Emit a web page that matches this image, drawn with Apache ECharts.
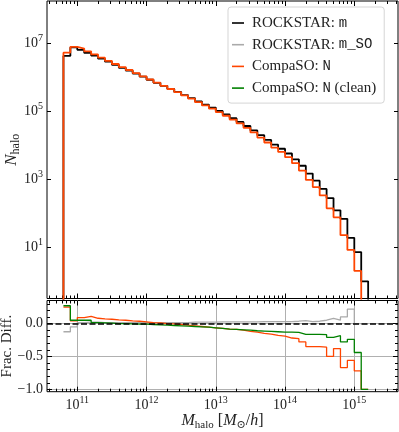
<!DOCTYPE html>
<html>
<head>
<meta charset="utf-8">
<script src="https://cdn.jsdelivr.net/npm/echarts@6.0.0/dist/echarts.min.js"></script>
<style>
html, body { margin: 0; padding: 0; background: #fff; }
#chart { width: 399px; height: 432px; }
</style>
</head>
<body>
<div id="chart"></div>
<script>
// bin edges in log10(M_halo / (M_sun/h)), 0.1 dex wide
var binEdges = [10.8, 10.9, 11.0, 11.1, 11.2, 11.3, 11.4, 11.5, 11.6, 11.7,
  11.8, 11.9, 12.0, 12.1, 12.2, 12.3, 12.4, 12.5, 12.6, 12.7,
  12.8, 12.9, 13.0, 13.1, 13.2, 13.3, 13.4, 13.5, 13.6, 13.7,
  13.8, 13.9, 14.0, 14.1, 14.2, 14.3, 14.4, 14.5, 14.6, 14.7,
  14.8, 14.9, 15.0, 15.1, 15.2]

// ROCKSTAR m : log10(N_halo) per bin
var rockstarLogN = [6.64, 6.89, 6.82, 6.73, 6.65, 6.56, 6.47, 6.38, 6.29, 6.21,
  6.12, 6.03, 5.94, 5.85, 5.76, 5.67, 5.58, 5.49, 5.40, 5.30,
  5.21, 5.12, 5.02, 4.92, 4.81, 4.70, 4.58, 4.45, 4.31, 4.17,
  4.03, 3.91, 3.77, 3.60, 3.41, 3.18, 2.97, 2.73, 2.46, 2.10,
  1.85, 1.29, 0.87, 0.01]

// fractional differences relative to ROCKSTAR m
var fracDiffRockstarSO = [-0.125, -0.05, 0.015, 0.02, 0.02, 0.015, 0.015, 0.015, 0.015, 0.015,
  0.015, 0.015, 0.015, 0.015, 0.015, 0.015, 0.015, 0.015, 0.02, 0.02,
  0.02, 0.02, 0.025, 0.025, 0.025, 0.025, 0.025, 0.025, 0.03, 0.03,
  0.03, 0.03, 0.03, 0.035, 0.045, 0.03, 0.035, 0.05, 0.08, 0.05,
  0.10, 0.22, 0.0, 0.0]
var fracDiffCompaSO = [0.25, 0.04, 0.09, 0.11, 0.08, 0.07, 0.065, 0.055, 0.05, 0.04,
  0.035, 0.025, 0.015, 0.01, 0.0, -0.005, -0.015, -0.025, -0.035, -0.045,
  -0.055, -0.065, -0.075, -0.085, -0.09, -0.10, -0.12, -0.13, -0.15, -0.16,
  -0.18, -0.19, -0.22, -0.23, -0.28, -0.35, -0.35, -0.36, -0.50, -0.38,
  -0.67, -0.56, -0.72, -1.0]
var fracDiffCompaSOClean = [0.27, 0.05, 0.05, 0.05, 0.015, 0.01, 0.005, 0.0, 0.0, -0.005,
  -0.01, -0.01, -0.015, -0.02, -0.025, -0.03, -0.035, -0.04, -0.045, -0.05,
  -0.055, -0.065, -0.075, -0.085, -0.09, -0.095, -0.10, -0.11, -0.115, -0.12,
  -0.125, -0.13, -0.13, -0.135, -0.165, -0.165, -0.165, -0.17, -0.21, -0.185,
  -0.28, -0.24, -0.44, -1.0]

var massTicks = [11, 12, 13, 14, 15]
var countTicks = [1, 3, 5, 7]
var fracTicks = [-1, -0.5, 0]
var fracTickLabels = ['\u22121.0', '\u22120.5', '0.0']

var legendNames = ['ROCKSTAR: m', 'ROCKSTAR: m_SO', 'CompaSO: N', 'CompaSO: N (clean)']
var legendLabels = {
  'ROCKSTAR: m': '{t|ROCKSTAR: }{m|m}',
  'ROCKSTAR: m_SO': '{t|ROCKSTAR: }{m|m_SO}',
  'CompaSO: N': '{t|CompaSO: }{m|N}',
  'CompaSO: N (clean)': '{t|CompaSO: }{m|N}{t| (clean)}'
}

var SERIF = '"Liberation Serif", "DejaVu Serif", serif'
var MONO = '"Liberation Mono", "DejaVu Sans Mono", monospace'
var X_MIN = 10.5625, X_MAX = 15.631
var N_MIN = -0.494, N_MAX = 8.256
var F_MIN = -1.036, F_MAX = 0.35
var FLOOR = -3 // empty bins, below the plot

// CompaSO N counts from ROCKSTAR counts and the frac. diff.
var compaLogN = rockstarLogN.map(function (v, i) {
  var r = 1 + fracDiffCompaSO[i]
  return r > 0 ? v + Math.log10(r) : FLOOR
})

function stepData(vals, floor) {
  var pts = []
  if (floor != null) pts.push([binEdges[0], floor])
  for (var i = 0; i < vals.length; i++) pts.push([binEdges[i], vals[i]])
  pts.push([binEdges[vals.length], vals[vals.length - 1]])
  if (floor != null) pts.push([binEdges[vals.length], floor])
  return pts
}

// minor ticks of the log mass axis
var massMinor = []
for (var n = 10; n <= 15; n++) {
  for (var k = 2; k <= 9; k++) {
    var t = n + Math.log10(k)
    if (t > X_MIN && t < X_MAX) massMinor.push(t)
  }
}
var fracMinor = []
for (var j = -10; j <= 3; j++) {
  if (j % 5 !== 0) fracMinor.push(j / 10)
}

var powRich = {
  b: { fontFamily: SERIF, fontSize: 14, lineHeight: 20, color: '#222' },
  s: { fontFamily: SERIF, fontSize: 10, lineHeight: 10, verticalAlign: 'top', color: '#222' }
}
function powLabel(v) {
  return '{b|10}{s|' + Math.round(v) + '}'
}

function tickAxis(grid, pos, min, max, ticks, len) {
  return {
    type: 'value',
    gridIndex: grid,
    position: pos,
    min: min,
    max: max,
    nameMoveOverlap: false,
    axisLine: { show: false, onZero: false },
    axisTick: {
      show: true, inside: true, length: len, customValues: ticks,
      lineStyle: { color: '#000', width: 1 }
    },
    axisLabel: { show: false },
    splitLine: { show: false },
    axisPointer: { show: false }
  }
}

// x axes
var xAxes = [
  tickAxis(0, 'bottom', X_MIN, X_MAX, massTicks, 5),
  tickAxis(0, 'bottom', X_MIN, X_MAX, massMinor, 3),
  tickAxis(0, 'top', X_MIN, X_MAX, massTicks, 5),
  tickAxis(0, 'top', X_MIN, X_MAX, massMinor, 3),
  tickAxis(1, 'bottom', X_MIN, X_MAX, massTicks, 5),
  tickAxis(1, 'bottom', X_MIN, X_MAX, massMinor, 3),
  tickAxis(1, 'top', X_MIN, X_MAX, massTicks, 5),
  tickAxis(1, 'top', X_MIN, X_MAX, massMinor, 3)
]
xAxes[4].axisLabel = {
  show: true, customValues: massTicks, margin: 4,
  formatter: powLabel, rich: powRich
}
xAxes[4].splitLine = { show: true, lineStyle: { color: '#b0b0b0', width: 1 } }
xAxes[4].name = '{i|M}{sub|halo}{r| [}{i|M}{sub|\u2299}{r|/}{i|h}{r|]}'
xAxes[4].nameLocation = 'middle'
xAxes[4].nameGap = 19
xAxes[4].nameTextStyle = {
  rich: {
    i: { fontFamily: SERIF, fontStyle: 'italic', fontSize: 16, lineHeight: 20, color: '#222' },
    r: { fontFamily: SERIF, fontSize: 16, lineHeight: 20, color: '#222' },
    sub: { fontFamily: SERIF, fontSize: 11, lineHeight: 12, verticalAlign: 'bottom', color: '#222' }
  }
}

// y axes
var yAxes = [
  tickAxis(0, 'left', N_MIN, N_MAX, countTicks, 4),
  tickAxis(0, 'right', N_MIN, N_MAX, countTicks, 4),
  tickAxis(1, 'left', F_MIN, F_MAX, fracTicks, 5),
  tickAxis(1, 'left', F_MIN, F_MAX, fracMinor, 3),
  tickAxis(1, 'right', F_MIN, F_MAX, fracTicks, 5),
  tickAxis(1, 'right', F_MIN, F_MAX, fracMinor, 3)
]
yAxes[0].axisLabel = {
  show: true, customValues: countTicks, margin: 4,
  formatter: powLabel, rich: powRich
}
yAxes[0].name = '{i|N}{sub|halo}'
yAxes[0].nameLocation = 'middle'
yAxes[0].nameRotate = 90
yAxes[0].nameGap = 25
yAxes[0].nameTextStyle = {
  rich: {
    i: { fontFamily: SERIF, fontStyle: 'italic', fontSize: 17, lineHeight: 20, color: '#222' },
    sub: { fontFamily: SERIF, fontSize: 12, lineHeight: 12, verticalAlign: 'bottom', color: '#222' }
  }
}
yAxes[2].axisLabel = {
  show: true, customValues: fracTicks, margin: 4,
  fontFamily: SERIF, fontSize: 14, color: '#222',
  formatter: function (v) {
    return fracTickLabels[fracTicks.indexOf(v)]
  }
}
yAxes[2].splitLine = { show: true, lineStyle: { color: '#b0b0b0', width: 1 } }
yAxes[2].name = 'Frac. Diff.'
yAxes[2].nameLocation = 'middle'
yAxes[2].nameRotate = 90
yAxes[2].nameGap = 32
yAxes[2].nameTextStyle = { fontFamily: SERIF, fontSize: 15, color: '#222' }

var chart = echarts.init(document.getElementById('chart'))
var options = {
  backgroundColor: '#fff',
  animation: false,
  grid: [
    {
      left: 47, top: 1, width: 351, height: 297.5,
      outerBoundsMode: 'none', containLabel: false,
      show: true, borderColor: '#000', borderWidth: 1, backgroundColor: 'transparent'
    },
    {
      left: 47, top: 300.5, width: 351, height: 91.2,
      outerBoundsMode: 'none', containLabel: false,
      show: true, borderColor: '#000', borderWidth: 1, backgroundColor: 'transparent'
    }
  ],
  legend: {
    data: legendNames,
    orient: 'vertical',
    left: 228,
    top: 7,
    icon: 'rect',
    itemWidth: 12,
    itemHeight: 1.6,
    itemGap: 5.7,
    padding: [8, 8, 7, 4],
    backgroundColor: 'rgba(255,255,255,0.8)',
    borderColor: '#d5d5d5',
    borderWidth: 1,
    borderRadius: 3,
    formatter: function (name) {
      return legendLabels[name]
    },
    textStyle: {
      color: '#222',
      lineHeight: 16,
      padding: [0, 0, 0, 3],
      rich: {
        t: { fontFamily: SERIF, fontSize: 15, color: '#222' },
        m: { fontFamily: MONO, fontSize: 14, color: '#222' }
      }
    }
  },
  xAxis: xAxes,
  yAxis: yAxes,
  series: [
    {
      name: 'ROCKSTAR: m',
      type: 'line',
      step: 'end',
      xAxisIndex: 0,
      yAxisIndex: 0,
      data: stepData(rockstarLogN, FLOOR),
      color: '#000',
      lineStyle: { width: 1.8 },
      symbol: 'none',
      showSymbol: false,
      z: 2
    },
    {
      name: 'CompaSO: N',
      type: 'line',
      step: 'end',
      xAxisIndex: 0,
      yAxisIndex: 0,
      data: stepData(compaLogN, FLOOR),
      color: '#ff4500',
      lineStyle: { width: 1.8 },
      symbol: 'none',
      showSymbol: false,
      z: 3
    },
    {
      name: 'ROCKSTAR: m_SO',
      type: 'line',
      step: 'end',
      xAxisIndex: 4,
      yAxisIndex: 2,
      data: stepData(fracDiffRockstarSO),
      color: '#aaaaaa',
      lineStyle: { width: 1.3 },
      symbol: 'none',
      showSymbol: false,
      z: 2,
      markLine: {
        silent: true,
        symbol: ['none', 'none'],
        label: { show: false },
        lineStyle: { color: '#000', width: 1.5, type: [6, 2.5] },
        data: [{ yAxis: 0 }]
      }
    },
    {
      name: 'CompaSO: N',
      type: 'line',
      step: 'end',
      xAxisIndex: 4,
      yAxisIndex: 2,
      data: stepData(fracDiffCompaSO),
      color: '#ff4500',
      lineStyle: { width: 1.3 },
      symbol: 'none',
      showSymbol: false,
      z: 3
    },
    {
      name: 'CompaSO: N (clean)',
      type: 'line',
      step: 'end',
      xAxisIndex: 4,
      yAxisIndex: 2,
      data: stepData(fracDiffCompaSOClean),
      color: '#008000',
      lineStyle: { width: 1.3 },
      symbol: 'none',
      showSymbol: false,
      z: 4
    }
  ]
}
chart.setOption(options)
</script>
</body>
</html>
